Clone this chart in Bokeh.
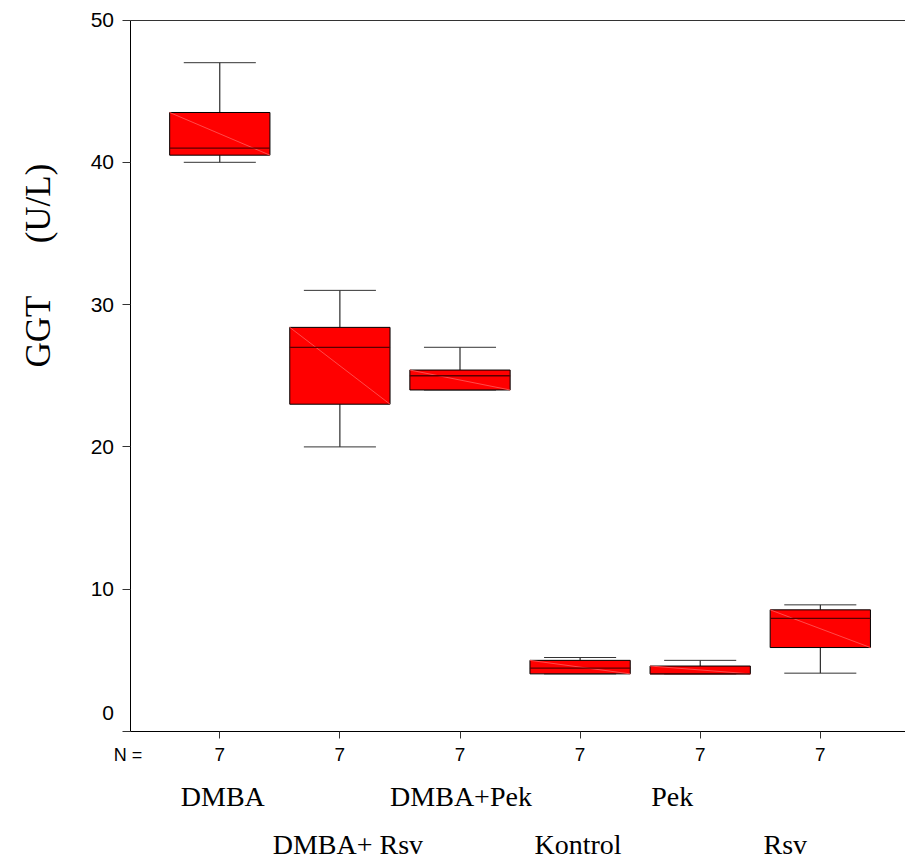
import numpy as np
from bokeh.plotting import figure
from bokeh.models import FixedTicker, LinearAxis, Label, ColumnDataSource, Range1d
from bokeh.embed import file_html
from bokeh.resources import INLINE

# ---------------- data ----------------
groups = ["DMBA", "DMBA+ Rsv", "DMBA+Pek", "Kontrol", "Pek", "Rsv"]
n_counts = [7, 7, 7, 7, 7, 7]
whisker_low = [40.0, 20.0, 24.0, 4.05, 4.05, 4.1]
q1 = [40.5, 23.0, 24.0, 4.05, 4.05, 5.9]
median = [41.0, 27.0, 25.0, 4.45, 4.05, 7.95]
q3 = [43.5, 28.4, 25.4, 5.0, 4.6, 8.55]
whisker_high = [47.0, 31.0, 27.0, 5.2, 5.0, 8.9]
y_ticks = [0, 10, 20, 30, 40, 50]
y_title = ["GGT", "(U/L)"]

# ---------------- styles / layout (pixels) ----------------
label_row = [0, 1, 0, 1, 0, 1]
label_dx = [3, 8, 1, -2, -28, -35]
row_dy = [-65, -113]
W, H = 905, 861
cat_px = 120.1          # pixels per category
first_px = 219.3        # pixel x of first category
axis_px = 129.5         # pixel x of the y axis
y_top_px, y_bot_px = 19.5, 731.0
Y_MIN, Y_MAX = y_ticks[0], y_ticks[-1]
ppu = (y_bot_px - y_top_px) / (Y_MAX - Y_MIN)

x_start = -first_px / cat_px
x_end = (W - first_px) / cat_px
x_axis_loc = (axis_px - first_px) / cat_px
y_end = Y_MAX + y_top_px / ppu
y_start = Y_MIN - (H - y_bot_px) / ppu

BOX_W = 0.835
CAP_W = 0.6

xs = np.arange(len(groups), dtype=float)
src = ColumnDataSource(dict(
    x=xs, lo=whisker_low, q1=q1, med=median, q3=q3, hi=whisker_high,
    bl=xs - BOX_W / 2, br=xs + BOX_W / 2,
    cl=xs - CAP_W / 2, cr=xs + CAP_W / 2,
))

p = figure(width=W, height=H, x_range=Range1d(x_start, x_end), y_range=Range1d(y_start, y_end),
           output_backend="svg", toolbar_location=None,
           x_axis_location=None, y_axis_location=None,
           min_border_left=0, min_border_right=0, min_border_top=0, min_border_bottom=0)
p.outline_line_color = None
p.grid.visible = False
p.background_fill_color = "white"
p.border_fill_color = "white"

# x axis (N counts)
xa = LinearAxis(fixed_location=Y_MIN, bounds=(x_axis_loc, x_end))
xa.ticker = FixedTicker(ticks=list(range(len(groups))))
xa.major_label_overrides = {i: str(n_counts[i]) for i in range(len(groups))}
xa.major_tick_out = 7
xa.major_tick_in = 0
xa.minor_tick_line_color = None
xa.axis_line_color = "black"
xa.major_tick_line_color = "#333333"
xa.major_label_text_font = "Liberation Sans"
xa.major_label_text_font_size = "19px"
xa.major_label_text_color = "black"
xa.major_label_standoff = 9
p.add_layout(xa, "below")

# y axis
ya = LinearAxis(fixed_location=x_axis_loc, bounds=(Y_MIN, Y_MAX))
ya.ticker = FixedTicker(ticks=y_ticks)
ya.major_label_overrides = {0: ""}
ya.major_tick_out = 8
ya.major_tick_in = 0
ya.minor_tick_line_color = None
ya.axis_line_color = "black"
ya.major_tick_line_color = "#333333"
ya.major_label_text_font = "Liberation Sans"
ya.major_label_text_font_size = "21px"
ya.major_label_text_color = "black"
ya.major_label_standoff = 8
p.add_layout(ya, "left")

# top frame line
top_axis = LinearAxis(fixed_location=Y_MAX, bounds=(x_axis_loc, x_end),
                      ticker=FixedTicker(ticks=[]), axis_line_color="#333333",
                      major_tick_line_color=None, minor_tick_line_color=None,
                      major_label_text_font_size="0px")
p.add_layout(top_axis, "above")

# whiskers
p.segment(x0="x", y0="q3", x1="x", y1="hi", source=src, line_color="black", line_width=1)
p.segment(x0="x", y0="lo", x1="x", y1="q1", source=src, line_color="black", line_width=1)
p.segment(x0="cl", y0="hi", x1="cr", y1="hi", source=src, line_color="#333333", line_width=1)
p.segment(x0="cl", y0="lo", x1="cr", y1="lo", source=src, line_color="#333333", line_width=1)

# boxes
p.vbar(x="x", width=BOX_W, bottom="q1", top="q3", source=src,
       fill_color="#ff0000", line_color="black", line_width=1)
p.segment(x0="bl", y0="q3", x1="br", y1="q1", source=src, line_color="#ff4a4a", line_width=1)
p.segment(x0="bl", y0="med", x1="br", y1="med", source=src, line_color="#5a0000", line_width=1.3)

# category labels (two staggered rows)
for i, g in enumerate(groups):
    p.add_layout(Label(x=i, y=Y_MIN, x_offset=label_dx[i], y_offset=row_dy[label_row[i]],
                       text=g, text_align="center", text_baseline="alphabetic",
                       text_font="Liberation Serif", text_font_size="28px", text_color="black"))

# N = label
p.add_layout(Label(x=x_axis_loc, y=Y_MIN, x_offset=-2, y_offset=-23, text="N =",
                   text_align="center", text_baseline="middle",
                   text_font="Liberation Sans", text_font_size="18px", text_color="black"))

# zero label (raised as in the original)
p.add_layout(Label(x=x_axis_loc, y=Y_MIN, x_offset=-16, y_offset=19, text=str(y_ticks[0]),
                   text_align="right", text_baseline="middle",
                   text_font="Liberation Sans", text_font_size="21px", text_color="black"))

# y title
for t, dy in zip(y_title, [400, 528]):
    p.add_layout(Label(x=x_axis_loc, y=Y_MIN, x_offset=-92, y_offset=dy, text=t, angle=np.pi / 2,
                       text_align="center", text_baseline="middle",
                       text_font="Liberation Serif", text_font_size="35px", text_color="black"))

open("out.html", "w").write(file_html(p, INLINE))
